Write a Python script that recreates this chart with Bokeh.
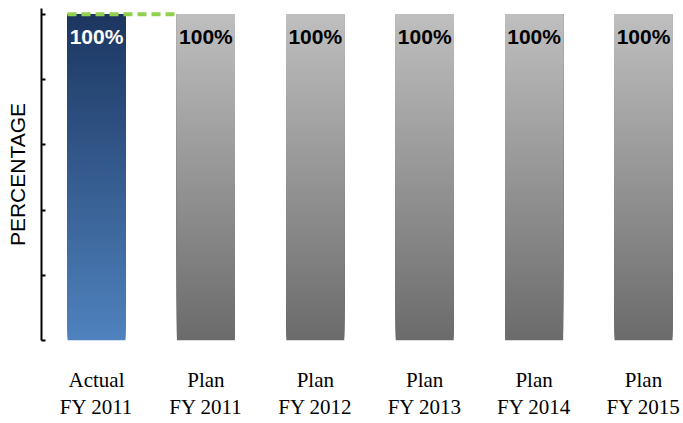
import numpy as np
from bokeh.plotting import figure
from bokeh.models import ColumnDataSource, FixedTicker, Range1d, LinearAxis
from bokeh.core.properties import value
from bokeh.embed import file_html
from bokeh.resources import INLINE

# ---- data ----
kinds = ["Actual", "Plan", "Plan", "Plan", "Plan", "Plan"]
years = ["FY 2011", "FY 2011", "FY 2012", "FY 2013", "FY 2014", "FY 2015"]
values = [100, 100, 100, 100, 100, 100]
value_labels = ["100%", "100%", "100%", "100%", "100%", "100%"]
target_value = 100          # green dashed reference line
y_ticks = [0, 20, 40, 60, 80, 100]
y_title = "PERCENTAGE"

# ---- style ----
BAR_W = 0.53
BLUE_BOTTOM, BLUE_TOP = (79, 130, 190), (28, 54, 96)
GRAY_BOTTOM, GRAY_TOP = (107, 107, 107), (191, 191, 191)
N_SLICES = 100


def mix(c0, c1, t):
    return "#%02x%02x%02x" % tuple(int(round(a + (b - a) * t)) for a, b in zip(c0, c1))


xs = list(range(len(values)))

p = figure(width=683, height=423, output_backend="svg", toolbar_location=None,
           x_range=Range1d(-0.5027, 5.3656), y_range=Range1d(0, 101.8),
           min_border_left=41, min_border_right=0, min_border_top=8,
           min_border_bottom=83)
p.outline_line_color = None
p.grid.grid_line_color = None
p.background_fill_color = "white"

# gradient bars: stacked layers, each from its slice start up to the bar top
left, right, bottom, top, color = [], [], [], [], []
for i, v in zip(xs, values):
    c0, c1 = (BLUE_BOTTOM, BLUE_TOP) if kinds[i] == "Actual" else (GRAY_BOTTOM, GRAY_TOP)
    for j in range(N_SLICES):
        left.append(i - BAR_W / 2)
        right.append(i + BAR_W / 2)
        bottom.append(v * j / N_SLICES)
        top.append(v)
        color.append(mix(c0, c1, (j + 0.5) / N_SLICES))
p.quad(left="left", right="right", bottom="bottom", top="top", fill_color="color",
       line_color=None,
       source=ColumnDataSource(dict(left=left, right=right, bottom=bottom, top=top, color=color)))

# dashed green line from Actual bar to first plan bar
p.line(x=[xs[0] - BAR_W / 2, xs[1] - BAR_W / 2], y=[target_value, target_value],
       line_color="#92D050", line_width=4, line_dash="9 5")

# value labels
lab_src = ColumnDataSource(dict(
    x=xs, y=values, t=value_labels,
    c=["white" if k == "Actual" else "black" for k in kinds]))
p.text(x="x", y="y", text="t", text_color="c", source=lab_src,
       text_font=value("Liberation Sans"), text_font_style="bold",
       text_font_size="21px", text_align="center", text_baseline="alphabetic",
       y_offset=22)


def style_cat_axis(ax, labels, standoff):
    ax.ticker = FixedTicker(ticks=xs)
    ax.major_label_overrides = {i: t for i, t in zip(xs, labels)}
    ax.major_label_text_font = "Liberation Serif"
    ax.major_label_text_font_size = "21px"
    ax.major_label_text_color = "black"
    ax.major_label_text_line_height = 1.0
    ax.major_label_standoff = standoff
    ax.axis_line_color = None
    ax.major_tick_line_color = None
    ax.minor_tick_line_color = None
    ax.major_tick_in = 0
    ax.major_tick_out = 0
    ax.minor_tick_in = 0
    ax.minor_tick_out = 0


# category labels: two stacked axes (kind, then fiscal year)
style_cat_axis(p.xaxis[0], kinds, 27)
year_axis = LinearAxis()
style_cat_axis(year_axis, years, 0)
p.add_layout(year_axis, "below")

# y axis
p.yaxis.ticker = FixedTicker(ticks=y_ticks)
p.yaxis.major_label_overrides = {t: "" for t in y_ticks}
p.yaxis.major_label_standoff = 0
p.yaxis.axis_line_color = "black"
p.yaxis.axis_line_width = 2
p.yaxis.major_tick_line_color = "black"
p.yaxis.major_tick_line_width = 2
p.yaxis.major_tick_in = 4
p.yaxis.major_tick_out = 0
p.yaxis.minor_tick_line_color = None
p.yaxis.axis_label = y_title
p.yaxis.axis_label_text_font = "Liberation Sans"
p.yaxis.axis_label_text_font_style = "normal"
p.yaxis.axis_label_text_font_size = "21px"
p.yaxis.axis_label_text_color = "black"
p.yaxis.axis_label_standoff = 13

open("out.html", "w").write(file_html(p, INLINE))
